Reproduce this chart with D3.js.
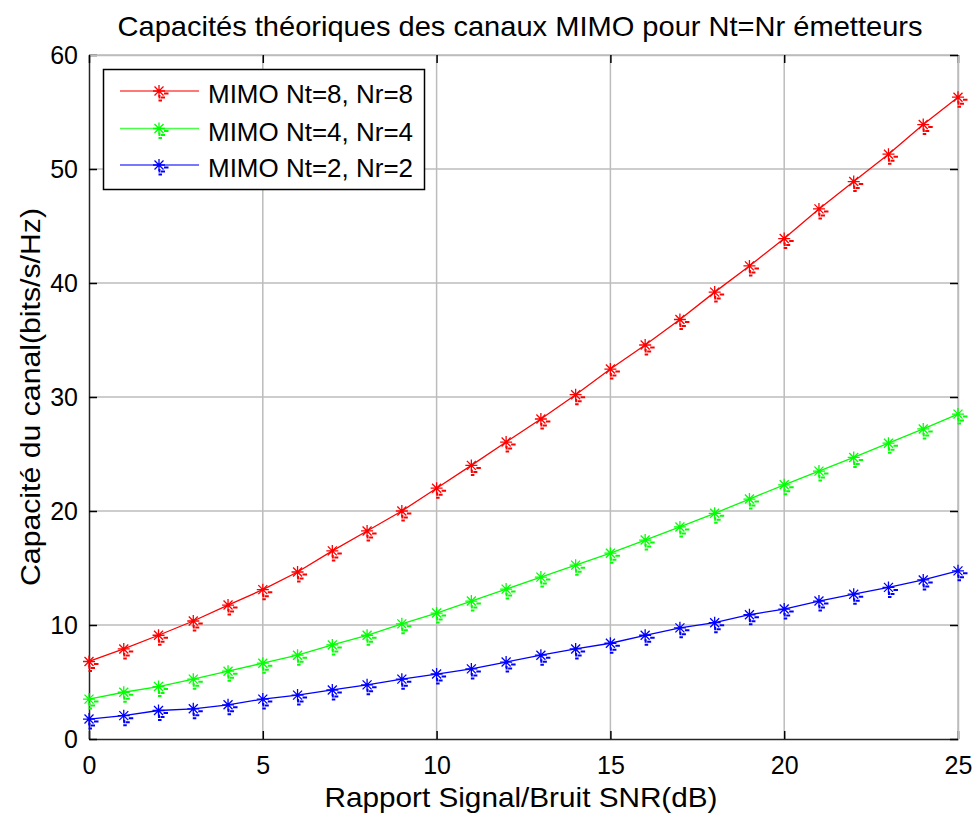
<!DOCTYPE html>
<html>
<head>
<meta charset="utf-8">
<script src="https://cdn.jsdelivr.net/npm/d3@7"></script>
<style>
  html, body { margin: 0; padding: 0; background: #fff; }
  svg { display: block; font-family: "Liberation Sans", Arial, sans-serif; }
</style>
</head>
<body>
<svg id="chart" width="974" height="813"></svg>
<script>
// SNR in dB
const snr = [0,1,2,3,4,5,6,7,8,9,10,11,12,13,14,15,16,17,18,19,20,21,22,23,24,25];

// Channel capacity (bits/s/Hz) for each antenna configuration
const cap8 = [6.8,7.9,9.1,10.35,11.75,13.1,14.65,16.5,18.25,20.0,22.0,24.0,26.05,28.07,30.2,32.45,34.56,36.8,39.2,41.5,43.9,46.5,48.9,51.3,53.9,56.3];
const cap4 = [3.5,4.1,4.6,5.25,5.95,6.65,7.35,8.25,9.1,10.1,11.05,12.1,13.15,14.2,15.25,16.3,17.45,18.6,19.8,21.05,22.3,23.5,24.7,25.95,27.2,28.5];
const cap2 = [1.75,2.05,2.5,2.65,3.0,3.5,3.85,4.3,4.75,5.25,5.7,6.15,6.75,7.35,7.9,8.4,9.1,9.75,10.2,10.9,11.4,12.1,12.7,13.3,13.95,14.75];

const seriesNames = ["MIMO Nt=8, Nr=8", "MIMO Nt=4, Nr=4", "MIMO Nt=2, Nr=2"];
const seriesColors = ["#ff0000", "#00ff00", "#0000ff"];
const seriesValues = [cap8, cap4, cap2];

const xTicks = [0,5,10,15,20,25];
const yTicks = [0,10,20,30,40,50,60];

const titleText = "Capacités théoriques des canaux MIMO pour Nt=Nr émetteurs";
const xLabelText = "Rapport Signal/Bruit SNR(dB)";
const yLabelText = "Capacité du canal(bits/s/Hz)";

const svg = d3.select("#chart");
const plotL = 89, plotR = 958, plotT = 55, plotB = 739;

const x = d3.scaleLinear().domain([0, 25]).range([plotL, plotR]);
const y = d3.scaleLinear().domain([0, 60]).range([plotB, plotT]);

// grid
const grid = svg.append("g");
grid.selectAll("line.gx").data(xTicks.slice(1)).join("line")
  .attr("x1", d => x(d)).attr("x2", d => x(d))
  .attr("y1", plotT).attr("y2", plotB)
  .attr("stroke", "#bcbcbc").attr("stroke-width", 1.5);
grid.selectAll("line.gy").data(yTicks.slice(1)).join("line")
  .attr("x1", plotL).attr("x2", plotR)
  .attr("y1", d => y(d)).attr("y2", d => y(d))
  .attr("stroke", "#bcbcbc").attr("stroke-width", 1.5);

// axes (ticks pointing inward)
const font = 25;
const xAxis = svg.append("g").attr("transform", `translate(0,${plotB})`)
  .call(d3.axisBottom(x).tickValues(xTicks).tickSizeInner(-8).tickSizeOuter(0).tickPadding(17));
const yAxis = svg.append("g").attr("transform", `translate(${plotL},0)`)
  .call(d3.axisLeft(y).tickValues(yTicks).tickSizeInner(-8).tickSizeOuter(0).tickPadding(11));
const xTop = svg.append("g").attr("transform", `translate(0,${plotT})`)
  .call(d3.axisTop(x).tickValues(xTicks).tickSizeInner(-8).tickSizeOuter(0).tickFormat(""));
const yRight = svg.append("g").attr("transform", `translate(${plotR},0)`)
  .call(d3.axisRight(y).tickValues(yTicks).tickSizeInner(-8).tickSizeOuter(0).tickFormat(""));

[xAxis, yAxis].forEach(g => {
  g.select(".domain").attr("stroke", "#262626").attr("stroke-width", 1.5);
  g.selectAll(".tick line").attr("stroke", "#000").attr("stroke-width", 1.5);
  g.selectAll(".tick text").attr("font-size", font).attr("fill", "#000")
    .attr("font-family", "Liberation Sans, Arial, sans-serif");
});
[xTop, yRight].forEach(g => {
  g.select(".domain").attr("stroke", "#bcbcbc").attr("stroke-width", 1.5);
  g.selectAll(".tick line").attr("stroke", "#000").attr("stroke-width", 1.5);
});
xAxis.selectAll(".tick text").attr("dy", "0.71em");

// marker shape: asterisk with small offset dashes
function asterisk(g, cx, cy, color) {
  const a = 6, b = 4.5;
  const p = d3.path();
  p.moveTo(cx - a, cy); p.lineTo(cx + a, cy);
  p.moveTo(cx, cy - a); p.lineTo(cx, cy + a);
  p.moveTo(cx - b, cy - b); p.lineTo(cx + b, cy + b);
  p.moveTo(cx - b, cy + b); p.lineTo(cx + b, cy - b);
  g.append("path").attr("d", p.toString()).attr("stroke", color)
    .attr("stroke-width", 1.3).attr("fill", "none");
  const q = d3.path();
  q.moveTo(cx + 5, cy + 2.5); q.lineTo(cx + 9.5, cy + 2.5);
  q.moveTo(cx + 2, cy + 6.5); q.lineTo(cx + 6, cy + 6.5);
  q.moveTo(cx + 0.5, cy + 4); q.lineTo(cx + 0.5, cy + 7.5);
  q.moveTo(cx - 0.5, cy + 9.5); q.lineTo(cx + 3, cy + 9.5);
  g.append("path").attr("d", q.toString()).attr("stroke", color)
    .attr("stroke-width", 2).attr("fill", "none");
}

// series
const line = d3.line().x(d => x(d[0])).y(d => y(d[1]));
seriesValues.forEach((vals, i) => {
  const pts = snr.map((s, j) => [s, vals[j]]);
  const g = svg.append("g");
  g.append("path").datum(pts).attr("d", line)
    .attr("fill", "none").attr("stroke", seriesColors[i]).attr("stroke-width", 1.3);
  pts.forEach(p => asterisk(g, x(p[0]), y(p[1]), seriesColors[i]));
});

// legend
const lg = svg.append("g");
lg.append("rect").attr("x", 103.5).attr("y", 69.5).attr("width", 321).attr("height", 120)
  .attr("fill", "#fff").attr("stroke", "#000").attr("stroke-width", 1.5);
const rowY = [91, 128.5, 165];
seriesNames.forEach((name, i) => {
  lg.append("line").attr("x1", 120).attr("x2", 199).attr("y1", rowY[i]).attr("y2", rowY[i])
    .attr("stroke", seriesColors[i]).attr("stroke-width", 1.3).attr("opacity", 0.7);
  asterisk(lg, 159, rowY[i], seriesColors[i]);
  lg.append("text").attr("x", 208).attr("y", rowY[i] + 12)
    .attr("font-size", 26).attr("fill", "#000")
    .attr("textLength", 205).attr("lengthAdjust", "spacingAndGlyphs")
    .text(name);
});

// title and axis labels
svg.append("text").attr("x", 520).attr("y", 36).attr("text-anchor", "middle")
  .attr("font-size", 28).attr("fill", "#000")
  .attr("textLength", 805).attr("lengthAdjust", "spacingAndGlyphs")
  .text(titleText);
svg.append("text").attr("x", 521).attr("y", 807).attr("text-anchor", "middle")
  .attr("font-size", 28).attr("fill", "#000")
  .attr("textLength", 393).attr("lengthAdjust", "spacingAndGlyphs")
  .text(xLabelText);
svg.append("text").attr("transform", "translate(40,397) rotate(-90)")
  .attr("text-anchor", "middle").attr("font-size", 27).attr("fill", "#000")
  .attr("textLength", 378).attr("lengthAdjust", "spacingAndGlyphs")
  .text(yLabelText);
</script>
</body>
</html>
